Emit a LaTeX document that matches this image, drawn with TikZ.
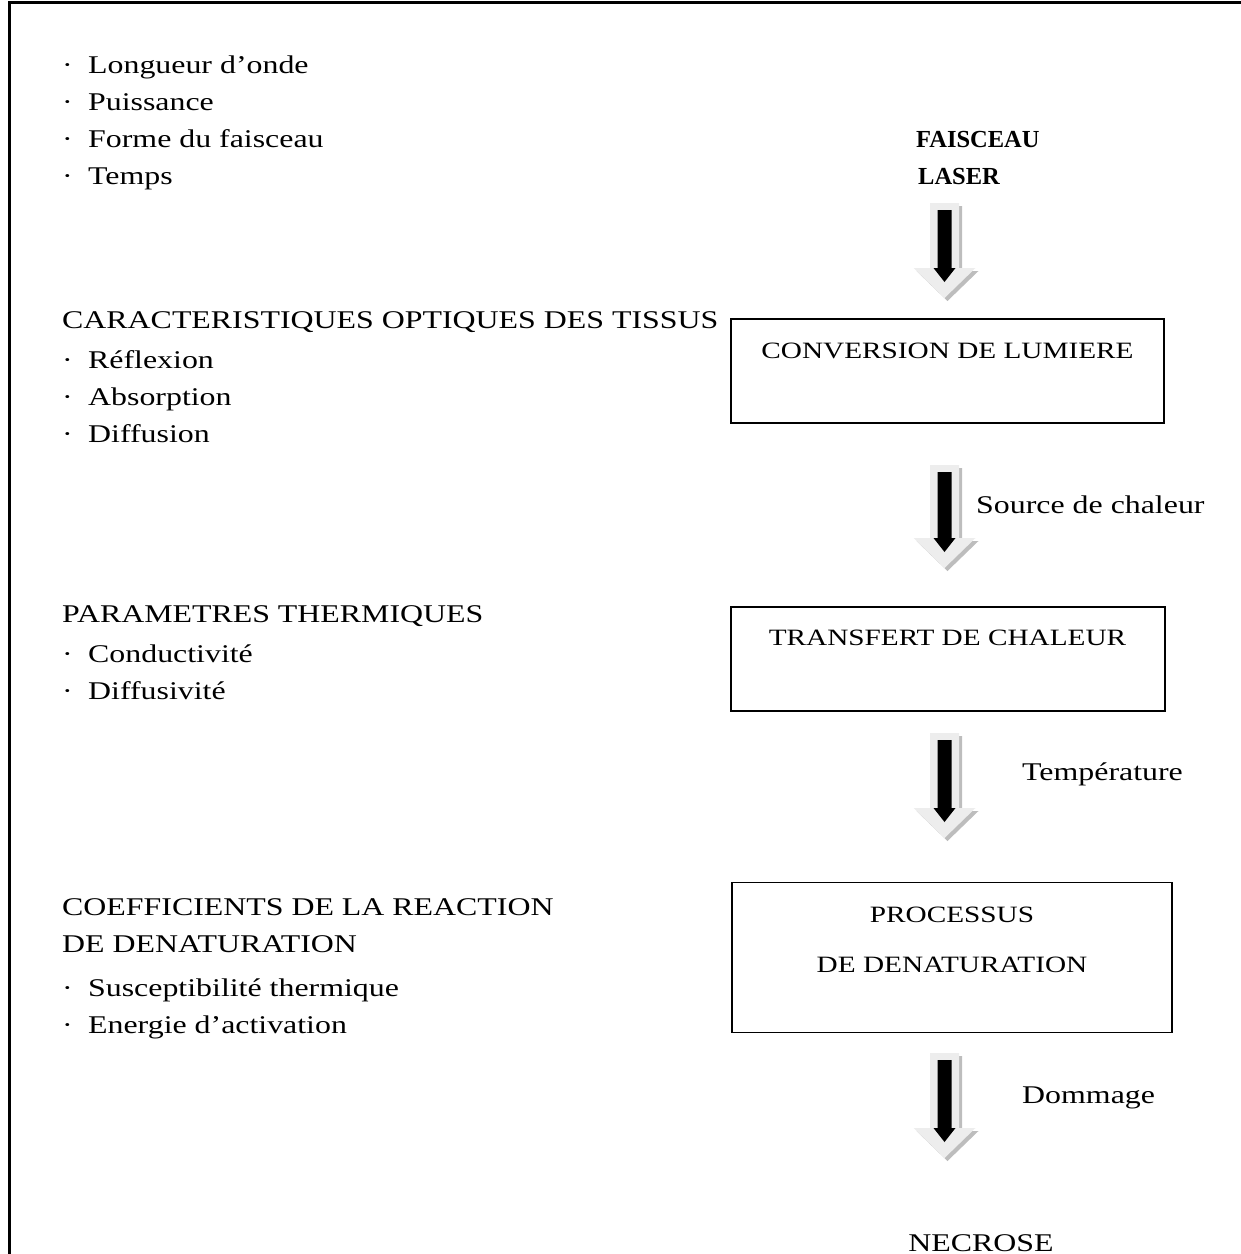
\documentclass[tikz,border=0pt]{standalone}
\usepackage{fontspec}
\setmainfont{Liberation Serif}[FakeStretch=1.25]
\newfontfamily\plainserif{Liberation Serif}
\definecolor{arrowlight}{HTML}{EDEDED}
\definecolor{arrowshadow}{HTML}{BDBDBD}
\tikzset{
  txt/.style={anchor=base west, inner sep=0pt, font=\fontsize{25.5}{30}\selectfont},
  ctxt/.style={anchor=base, inner sep=0pt, font=\fontsize{25.5}{30}\selectfont},
  boxtxt/.style={anchor=base, inner sep=0pt, font=\fontsize{23.4}{28}\selectfont},
  boldtxt/.style={anchor=base west, inner sep=0pt, font=\plainserif\fontsize{24.5}{29}\selectfont\bfseries},
  stepbox/.style={draw=black, line width=1.6pt, inner sep=0pt},
  frameline/.style={draw=black, line width=3pt},
}
\newcommand\bul{\makebox[26pt][l]{·}}
% fat block arrow: #1 top centre coordinate, #2 length
\newcommand\fatarrow[2]{%
  \begin{scope}[shift={(#1)}]
    \fill[arrowshadow] (-11.5,3) -- (17.5,3) -- (17.5,#2-27) -- (34,#2-27) -- (3,#2+3) -- (-28,#2-27) -- (-11.5,#2-27) -- cycle;
    \fill[arrowlight] (-14.5,0) -- (14.5,0) -- (14.5,#2-30) -- (31,#2-30) -- (0,#2) -- (-31,#2-30) -- (-14.5,#2-30) -- cycle;
    \fill[black] (-7,7) -- (7,7) -- (7,#2-30) -- (11,#2-30) -- (0,#2-16) -- (-11,#2-30) -- (-7,#2-30) -- cycle;
  \end{scope}}
\begin{document}
\begin{tikzpicture}[x=1pt,y=-1pt]
\useasboundingbox (0,0) rectangle (1241,1254);
\draw[frameline] (9,1270) -- (9,2) -- (1260,2);

% left column
\node[txt] (l1) at (62,73) {\bul Longueur d’onde};
\node[txt] (l2) at (62,110) {\bul Puissance};
\node[txt] (l3) at (62,147) {\bul Forme du faisceau};
\node[txt] (l4) at (62,184) {\bul Temps};

\node[txt] (c0) at (62,328) {CARACTERISTIQUES OPTIQUES DES TISSUS};
\node[txt] (c1) at (62,368) {\bul Réflexion};
\node[txt] (c2) at (62,405) {\bul Absorption};
\node[txt] (c3) at (62,442) {\bul Diffusion};

\node[txt] (p0) at (62,622) {PARAMETRES THERMIQUES};
\node[txt] (p1) at (62,662) {\bul Conductivité};
\node[txt] (p2) at (62,699) {\bul Diffusivité};

\node[txt] (k0) at (62,915) {COEFFICIENTS DE LA REACTION};
\node[txt] (k1) at (62,952) {DE DENATURATION};
\node[txt] (k2) at (62,996) {\bul Susceptibilité thermique};
\node[txt] (k3) at (62,1033) {\bul Energie d’activation};

% right column
\node[boldtxt] (f1) at (916,147) {FAISCEAU};
\node[boldtxt] (f2) at (918,184) {LASER};

\node[stepbox, minimum width=433pt, minimum height=104pt] (b1) at (947.5,371) {};
\node[boxtxt] (b1t) at (947.5,358) {CONVERSION DE LUMIERE};

\node[stepbox, minimum width=434pt, minimum height=104pt] (b2) at (948,659) {};
\node[boxtxt] (b2t) at (947.5,645) {TRANSFERT DE CHALEUR};

\node[stepbox, minimum width=440pt, minimum height=150pt] (b3) at (952,957.5) {};
\node[boxtxt] (b3t) at (952,922) {PROCESSUS};
\node[boxtxt] (b3u) at (952,972) {DE DENATURATION};

\node[ctxt] (nec) at (981,1251) {NECROSE};

% arrows
\coordinate (a1) at (944.5,203);
\coordinate (a2) at (944.5,465);
\coordinate (a3) at (944.5,733);
\coordinate (a4) at (944.5,1053);
\fatarrow{a1}{95}
\fatarrow{a2}{103}
\fatarrow{a3}{105}
\fatarrow{a4}{105}

\node[txt] (s1) at (976,513) {Source de chaleur};
\node[txt] (s2) at (1022,780) {Température};
\node[txt] (s3) at (1022,1103) {Dommage};
\end{tikzpicture}
\end{document}
